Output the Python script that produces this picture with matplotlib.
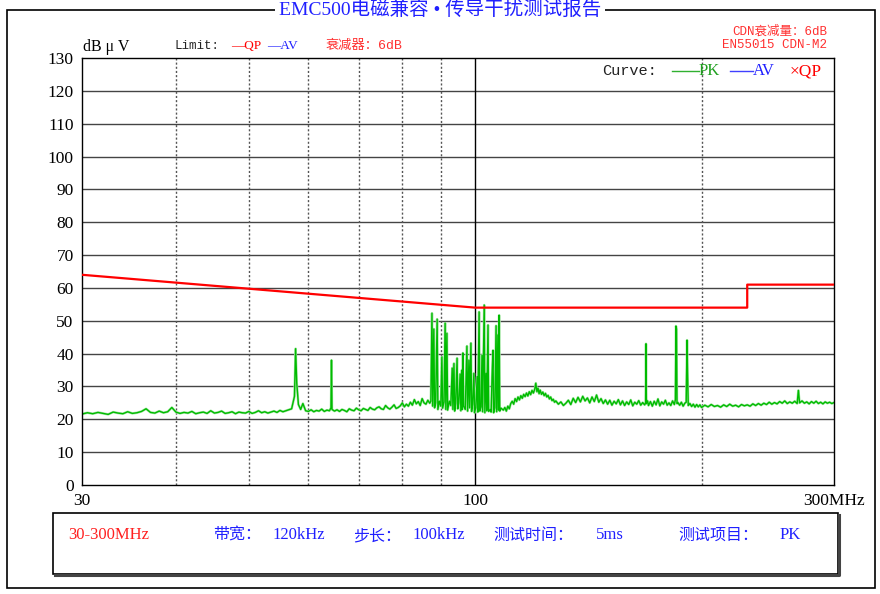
import matplotlib
matplotlib.use("Agg")
import matplotlib.pyplot as plt
from matplotlib.patches import Rectangle
from matplotlib.lines import Line2D

W, H = 880, 594

# ---------------- data ----------------
limit_freq = [30, 100, 230, 230, 300]
limit_level = [64, 54, 54, 61, 61]

pk_freq = [
    30.0, 30.5, 31.0, 31.5, 32.0, 32.5, 33.0, 33.5, 34.0, 34.5, 35.0, 35.5, 36.0, 36.5, 37.0, 37.5,
    38.0, 38.5, 39.0, 39.5, 40.0, 40.5, 41.0, 41.5, 42.0, 42.5, 43.0, 43.5, 44.0, 44.5, 45.0, 45.5,
    46.0, 46.5, 47.0, 47.5, 48.0, 48.5, 49.0, 49.5, 50.0, 50.5, 51.0, 51.5, 52.0, 52.5, 53.0, 53.5,
    54.0, 54.5, 55.0, 55.5, 56.0, 56.5,
    57.0, 57.5, 57.7, 57.9, 58.2, 58.6, 59.0, 59.5, 60.0, 60.5, 61.0, 61.5, 62.0, 62.5, 63.0, 63.5,
    64.0, 64.3, 64.4, 64.5, 65.0, 65.5, 66.0, 66.5, 67.0, 67.5, 68.0, 68.5, 69.0, 69.5, 70.0, 70.5,
    71.0, 71.5, 72.0, 72.5, 73.0, 73.5, 74.0, 74.5, 75.0, 75.5, 76.0, 76.5, 77.0, 77.5, 78.0, 78.5,
    79.0, 79.5, 80.0, 80.5, 81.0, 81.5, 82.0, 82.5, 83.0, 83.5, 84.0, 84.5, 85.0, 85.5, 86.0, 86.5,
    87.0, 87.3,
    87.6, 87.8, 88.1, 88.3, 88.6, 89.0, 89.2, 89.6, 90.0, 90.3, 90.5, 90.9, 91.2, 91.4, 91.7, 91.9,
    92.4, 92.8, 93.2, 93.4, 93.7, 93.9, 94.2, 94.6, 94.8, 95.1, 95.5, 95.7, 96.0, 96.1, 96.3, 96.5,
    97.0, 97.5, 97.7, 98.1, 98.3, 98.7, 98.9, 99.2, 99.6, 99.8, 100.2, 100.6, 100.8, 101.2, 101.4, 101.8,
    102.1, 102.3, 102.8, 103.0, 103.4, 103.6, 104.0, 104.2, 104.8, 105.0, 105.3, 105.6, 105.8, 106.2, 106.6, 106.8,
    107.2, 107.4, 107.6, 107.8, 108.2, 109.0,
    109.5, 110.0, 110.5, 111.0, 111.5, 112.0, 112.5, 113.0, 113.5, 114.0, 114.5, 115.0, 115.5, 116.0, 116.5, 117.0,
    117.5, 118.0, 118.5, 119.0, 119.5, 120.0, 120.4, 120.8, 121.2, 121.6, 122.0, 122.5, 123.0, 123.5, 124.0, 124.5,
    125.0, 125.5, 126.0, 126.5, 127.0, 127.5, 128.0, 129.0, 130.0, 131.0, 132.0, 133.0, 134.0, 135.0, 136.0, 137.0,
    138.0, 139.0, 140.0, 141.0, 142.0, 143.0, 144.0, 145.0, 146.0, 147.0, 148.0, 149.0, 150.0, 151.0, 152.0, 153.0,
    154.0, 155.0, 156.0, 157.0, 158.0, 159.0, 160.0, 161.0, 162.0, 163.0, 164.0, 165.0, 166.0, 167.0, 168.0, 168.5,
    168.7, 168.9, 169.5, 170.0, 171.0, 172.0, 173.0, 174.0, 175.0, 176.0, 177.0, 178.0, 179.0, 180.0, 181.0, 182.0,
    183.0, 184.0, 184.6, 184.9, 185.2, 185.5, 186.0, 187.0, 188.0, 189.0, 190.0, 190.8, 191.3, 191.6, 192.0, 193.0,
    194.0, 195.0, 196.0, 197.0, 198.0, 199.0, 200.0,
    202, 204, 206, 208, 210, 212, 214, 216, 218, 220, 222, 224, 226, 228, 230, 232,
    234, 236, 238, 240, 242, 244, 246, 248, 250, 252, 254, 256, 258, 260, 262, 264,
    266, 268, 269, 270, 272, 274, 276, 278, 280, 282, 284, 286, 288, 290, 292, 294,
    296, 298, 300,
]
pk_level = [
    21.6, 22.0, 21.7, 22.1, 21.8, 21.5, 22.2, 21.9, 21.7, 22.3, 21.8, 22.0, 22.4, 23.2, 22.1, 21.9,
    22.5, 22.0, 22.3, 23.6, 22.2, 21.8, 22.1, 21.9, 22.4, 21.7, 22.0, 22.2, 21.8, 22.6, 21.9, 22.1,
    22.5, 21.8, 22.0, 22.3, 21.7, 22.2, 22.0, 21.9, 22.4, 21.8, 22.1, 22.6, 22.0, 22.3, 21.9, 22.2,
    22.5, 22.1, 22.7, 22.3, 22.6, 22.9,
    23.2, 27.0, 41.5, 31.0, 24.5, 23.0, 24.8, 22.6, 22.4, 22.9, 22.3, 22.7, 22.5, 23.1, 22.4, 22.8,
    22.6, 23.5, 38.0, 23.0, 22.5, 22.9, 22.4, 23.0, 22.7, 22.3, 23.2, 22.8, 22.6, 23.4, 22.9, 22.6,
    23.3, 23.0, 22.7, 23.6, 23.1, 22.9, 23.5, 23.8, 23.2, 23.0, 24.2, 23.5, 23.1, 23.7, 24.4, 23.3,
    23.6, 24.1, 25.0, 23.8, 24.6, 24.0, 25.2, 24.3, 26.0, 24.7, 25.4, 24.2, 26.3, 25.0, 24.6, 25.8,
    24.9, 25.5,
    52.3, 24.0, 47.5, 23.5, 25.0, 50.5, 23.0, 25.5, 24.0, 39.0, 23.4, 25.3, 49.3, 23.0, 46.2, 22.8,
    25.5, 24.2, 35.6, 23.0, 37.0, 22.5, 24.8, 38.6, 23.2, 25.0, 33.8, 22.6, 35.0, 23.0, 40.2, 24.0,
    23.0, 42.3, 22.5, 38.0, 23.5, 43.2, 22.4, 24.5, 34.0, 22.0, 23.5, 33.0, 22.2, 52.7, 22.5, 23.8,
    39.5, 22.3, 54.8, 22.0, 34.0, 22.6, 48.7, 22.4, 23.0, 22.2, 33.0, 41.0, 22.0, 23.5, 48.5, 22.3,
    45.7, 22.8, 51.7, 22.5, 23.4, 22.8,
    23.6, 22.5, 24.0, 23.2, 24.8, 25.5, 24.6, 26.3, 25.4, 26.8, 25.9, 27.2, 26.4, 27.6, 26.9, 28.0,
    27.1, 28.4, 27.5, 28.8, 28.0, 29.2, 31.0, 28.4, 29.5, 27.8, 28.9, 27.6, 28.3, 27.2, 27.9, 26.8,
    27.3, 26.2, 26.8, 25.7, 26.1, 25.2, 25.6, 24.6, 25.3, 24.2, 24.9, 25.8, 24.5, 26.4, 25.1, 26.7,
    25.3, 27.0, 25.6, 26.5, 25.0, 26.8, 25.4, 27.4, 25.2, 26.3, 24.8, 25.9, 24.6, 25.8, 24.3, 25.5,
    24.7, 26.0, 24.4, 25.6, 24.2, 25.3, 24.5, 25.9, 24.1, 25.2, 24.6, 25.7, 24.3, 25.1, 24.4, 25.0,
    43.0, 24.8, 25.6, 24.2, 25.4, 24.0, 25.5, 24.4, 26.2, 24.1, 25.3, 24.6, 25.8, 24.3, 25.0, 24.2,
    25.6, 24.5, 26.0, 48.4, 47.5, 24.8, 25.1, 24.3, 25.2, 24.0, 24.9, 25.2, 44.1, 34.0, 24.2, 24.8,
    23.9, 24.6, 23.7, 24.5, 23.8, 24.4, 23.6,
    24.3, 23.8, 24.5, 23.9, 24.2, 23.7, 24.4, 23.9, 24.6, 24.0, 24.3, 23.8, 24.5, 24.1, 24.4, 24.0,
    24.7, 24.2, 24.8, 24.3, 24.9, 24.5, 25.2, 24.6, 25.1, 24.7, 25.4, 24.9, 25.6, 24.8, 25.3, 24.9,
    25.5, 24.8, 28.8, 25.0, 25.6, 24.9, 25.3, 24.7, 25.4, 24.9, 25.5, 24.8, 25.2, 24.7, 25.3, 24.9,
    25.2, 24.8, 25.1,
]

y_ticks = list(range(0, 131, 10))
x_ticks = [30, 100, 300]
x_tick_labels = ["30", "100", "300MHz"]
dotted_freqs = [40, 50, 60, 70, 80, 90, 200]

info_labels = ["带宽：", "步长：", "测试时间：", "测试项目："]
info_values = ["120kHz", "100kHz", "5ms", "PK"]
info_label_x = [213, 353, 493, 678]
info_value_x = [272, 412, 596, 780]

# ---------------- figure ----------------
fig = plt.figure(figsize=(W / 100, H / 100), dpi=100)
fig.patch.set_facecolor("white")


def fx(x):
    return x / W


def fy(y):
    return 1 - y / H


SERIF = ["Liberation Serif", "Noto Sans CJK SC"]
MONO = ["Liberation Mono", "Noto Sans CJK SC"]
CJK = ["Liberation Serif", "Noto Sans CJK SC", "DejaVu Sans"]
CJKM = ["Liberation Mono", "Noto Sans CJK SC", "DejaVu Sans"]

# outer border
fig.add_artist(Rectangle((fx(7), fy(588)), fx(875) - fx(7), fy(10) - fy(588),
                         transform=fig.transFigure, fill=False, edgecolor="black", lw=1.2))
fig.text(0.5, fy(10), "EMC500电磁兼容 • 传导干扰测试报告", ha="center", va="center",
         color="#2020ff", fontsize=14, family=CJK,
         bbox=dict(facecolor="white", edgecolor="none", pad=3))

# axes
ax = fig.add_axes([fx(82), fy(485), fx(834) - fx(82), fy(58) - fy(485)])
ax.set_xscale("log")
ax.set_xlim(30, 300)
ax.set_ylim(0, 130)
for yv in y_ticks[1:-1]:
    ax.axhline(yv, color="#444444", lw=1, zorder=1)
for fv in dotted_freqs:
    ax.axvline(fv, color="#555555", lw=1, ls=(0, (1.5, 1.5)), zorder=1)
ax.axvline(100, color="black", lw=1, zorder=1)

ax.plot(limit_freq, limit_level, color="#ff0000", lw=1.6, zorder=3)
ax.plot(pk_freq, pk_level, color="#a6e6a6", lw=1.8, zorder=2)
ax.plot(pk_freq, pk_level, color="#00bb00", lw=1.0, zorder=2)

ax.set_yticks(y_ticks)
ax.set_yticklabels([str(v) for v in y_ticks], family="Liberation Serif", fontsize=12.5)
ax.set_xticks(x_ticks)
ax.set_xticklabels(x_tick_labels, family="Liberation Serif", fontsize=12.5)
ax.minorticks_off()
ax.tick_params(axis="both", length=0)
ax.tick_params(axis="y", pad=6)
ax.tick_params(axis="x", pad=6)
for s in ax.spines.values():
    s.set_color("black")
    s.set_linewidth(1)

# header annotations
fig.text(fx(83), fy(47), "dB μ V", ha="left", va="center", fontsize=11.5, family=SERIF)
fig.text(fx(175), fy(46), "Limit:", ha="left", va="center", fontsize=9, family=MONO, color="#222222")
fig.text(fx(231), fy(46), "—QP", ha="left", va="center", fontsize=9.5, family=SERIF, color="#ff0000")
fig.text(fx(267), fy(46), "—AV", ha="left", va="center", fontsize=9.5, family=SERIF, color="#2020ff")
fig.text(fx(326), fy(46), "衰减器：6dB", ha="left", va="center", fontsize=9.5, family=CJKM, color="#ff3030")
fig.text(fx(827), fy(32), "CDN衰减量：6dB", ha="right", va="center", fontsize=9, family=CJKM, color="#ff3030")
fig.text(fx(827), fy(45), "EN55015 CDN-M2", ha="right", va="center", fontsize=9, family=MONO, color="#ff3030")

# legend inside plot
fig.text(fx(602), fy(71), "Curve:", ha="left", va="center", fontsize=11, family=MONO, color="#222222")
fig.add_artist(Line2D([fx(672), fx(699)], [fy(71), fy(71)], transform=fig.transFigure, color="#30b030", lw=1))
fig.text(fx(699), fy(71), "PK", ha="left", va="center", fontsize=12, family=SERIF, color="#20a020")
fig.add_artist(Line2D([fx(730), fx(753)], [fy(71), fy(71)], transform=fig.transFigure, color="#4040ff", lw=1))
fig.text(fx(753), fy(71), "AV", ha="left", va="center", fontsize=12, family=SERIF, color="#2020ff")
fig.text(fx(790), fy(71), "×QP", ha="left", va="center", fontsize=12.5, family=SERIF, color="#ff0000")

# info box
fig.add_artist(Line2D([fx(55), fx(839), fx(839)], [fy(575), fy(575), fy(515)],
                      transform=fig.transFigure, color="#444444", lw=2.2))
fig.add_artist(Rectangle((fx(53), fy(574)), fx(838) - fx(53), fy(513) - fy(574),
                         transform=fig.transFigure, fill=False, edgecolor="black", lw=1.2))
BASE = 539
fig.text(fx(68), fy(BASE), "30-300MHz", ha="left", va="baseline", fontsize=12, family=SERIF, color="#ff2020")
for lab, lx in zip(info_labels, info_label_x):
    fig.text(fx(lx), fy(BASE + 1), lab, ha="left", va="baseline", fontsize=11.5, family=CJK, color="#2020ff")
for val, vx in zip(info_values, info_value_x):
    fig.text(fx(vx), fy(BASE), val, ha="left", va="baseline", fontsize=12, family=SERIF, color="#2020ff")

fig.savefig("out.png", dpi=100, facecolor="white")
